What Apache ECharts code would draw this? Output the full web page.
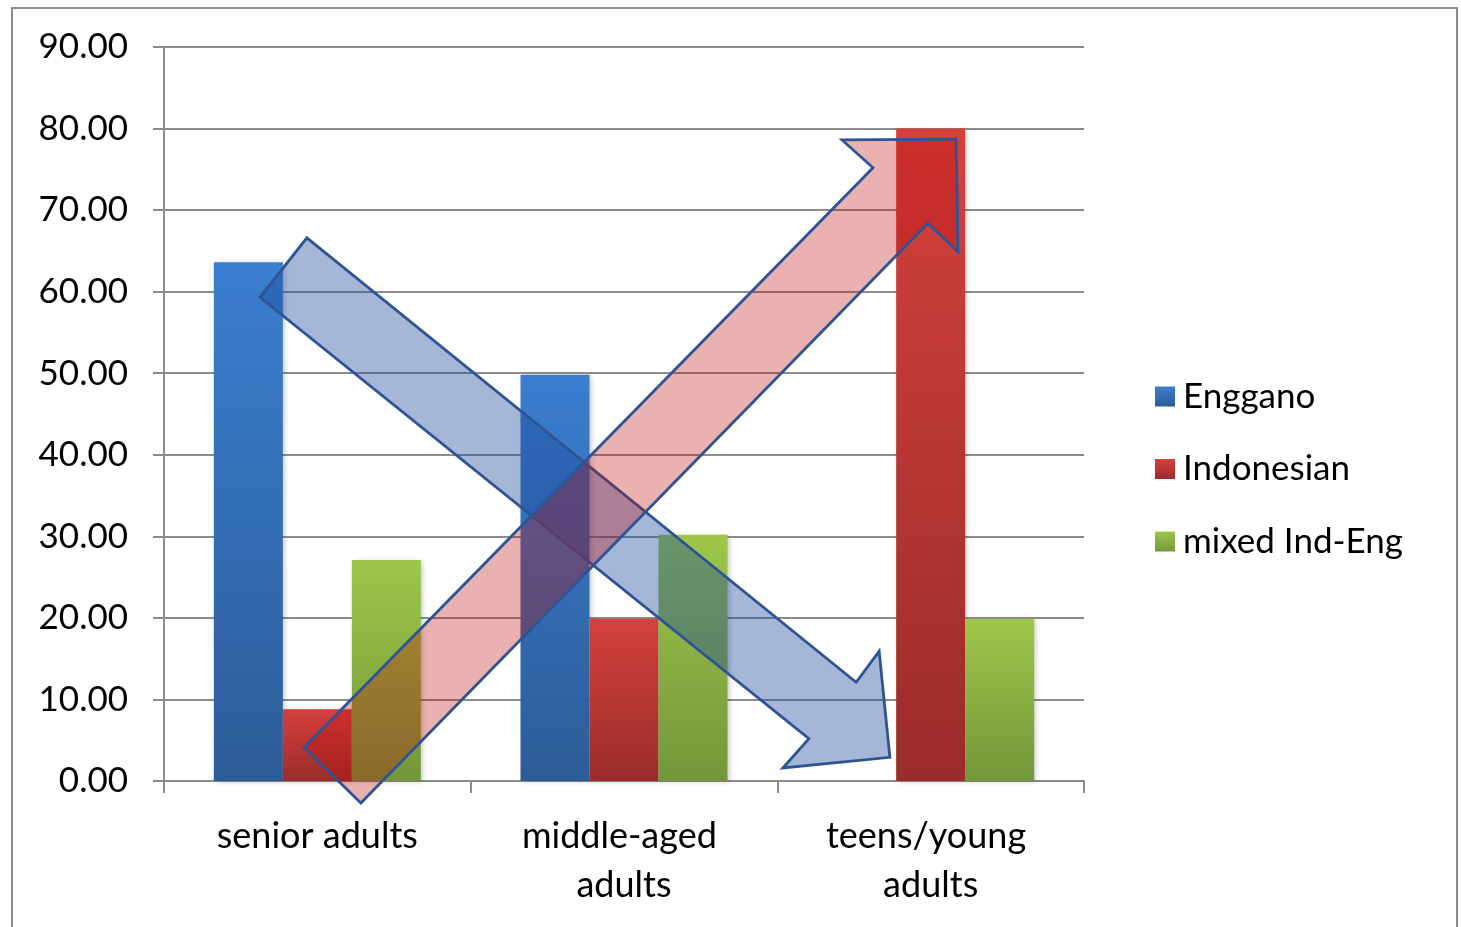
<!DOCTYPE html>
<html>
<head>
<meta charset="utf-8">
<script src="https://cdn.jsdelivr.net/npm/echarts@6/dist/echarts.min.js"></script>
<style>
  html, body { margin: 0; padding: 0; background: #fff; }
  #chart { width: 1461px; height: 927px; }
</style>
</head>
<body>
<div id="chart"></div>
<script>
// Language use by age group (percent of speakers)
const categories = ['senior adults', 'middle-aged adults', 'teens/young adults'];
const enggano = [63.6, 49.8, 0];
const indonesian = [8.8, 19.9, 80.0];
const mixedIndEng = [27.1, 30.2, 19.9];
const seriesNames = ['Enggano', 'Indonesian', 'mixed Ind-Eng'];
const yTicks = { min: 0, max: 90, step: 10 };

// Trend arrows, vertices given in data space: [category position (0..3), value]
const shiftDownArrow = [
  [0.466, 66.6], [2.257, 12.1], [2.332, 15.9], [2.367, 2.9],
  [2.018, 1.6], [2.103, 5.2], [0.313, 59.3]
];
const shiftUpArrow = [
  [0.457, 4.1], [2.312, 75.2], [2.211, 78.6], [2.583, 78.7],
  [2.589, 64.9], [2.491, 68.4], [0.642, -2.7]
];
const arrows = [shiftDownArrow, shiftUpArrow];

const FONT = 'Lato, "Noto Sans", sans-serif';

function grad(top, bottom) {
  return new echarts.graphic.LinearGradient(0, 0, 0, 1, [
    { offset: 0, color: top },
    { offset: 1, color: bottom }
  ]);
}

const barColors = [
  grad('#3B7ECF', '#2C5C98'),
  grad('#D4413D', '#9A2C2A'),
  grad('#9EC74A', '#74963A')
];
const arrowFills = ['rgba(31,73,155,0.40)', 'rgba(190,12,12,0.32)'];

const chart = echarts.init(document.getElementById('chart'), null, { renderer: 'canvas' });

function barSeries(name, data, color) {
  return {
    name: name,
    type: 'bar',
    data: data,
    barGap: '0%',
    barCategoryGap: '32.5%',
    z: 2,
    itemStyle: {
      color: color,
      shadowColor: 'rgba(0,0,0,0.22)',
      shadowBlur: 5,
      shadowOffsetX: 2,
      shadowOffsetY: 1
    }
  };
}

chart.setOption({
  animation: false,
  backgroundColor: '#fff',
  graphic: [{
    type: 'rect',
    shape: { x: 12, y: 8, width: 1445, height: 960 },
    style: { fill: 'none', stroke: '#8c8c8c', lineWidth: 2 },
    z: -1
  }],
  grid: { left: 164, right: 377, top: 47, bottom: 146 },
  legend: {
    data: seriesNames,
    orient: 'vertical',
    left: 1150,
    top: 374,
    icon: 'rect',
    itemWidth: 20,
    itemHeight: 20,
    itemGap: 37.5,
    textStyle: { fontFamily: FONT, fontSize: 35, color: '#000', padding: [0, 0, 0, 3] }
  },
  xAxis: [{
    type: 'category',
    data: categories,
    axisLine: { lineStyle: { color: '#8c8c8c', width: 2 } },
    axisTick: { show: true, length: 12, lineStyle: { color: '#8c8c8c', width: 2 } },
    axisLabel: {
      fontFamily: FONT, fontSize: 36, color: '#000', margin: 31,
      lineHeight: 49, width: 250, overflow: 'break', interval: 0
    }
  }, {
    type: 'value',
    min: 0, max: 3,
    show: false
  }],
  yAxis: {
    type: 'value',
    min: yTicks.min,
    max: yTicks.max,
    interval: yTicks.step,
    axisLine: { show: true, lineStyle: { color: '#8c8c8c', width: 2 } },
    axisTick: { show: true, length: 11, lineStyle: { color: '#8c8c8c', width: 2 } },
    splitLine: { lineStyle: { color: '#8c8c8c', width: 2 } },
    axisLabel: {
      fontFamily: FONT, fontSize: 35, color: '#000', margin: 36,
      formatter: v => v.toFixed(2)
    }
  },
  series: [
    barSeries(seriesNames[0], enggano, barColors[0]),
    barSeries(seriesNames[1], indonesian, barColors[1]),
    barSeries(seriesNames[2], mixedIndEng, barColors[2]),
    {
      type: 'custom',
      xAxisIndex: 1,
      yAxisIndex: 0,
      clip: false,
      silent: true,
      z: 10,
      data: [[0, 0], [1, 0]],
      renderItem: function (params, api) {
        const pts = arrows[params.dataIndex].map(p => api.coord(p));
        return {
          type: 'polygon',
          shape: { points: pts },
          style: {
            fill: arrowFills[params.dataIndex],
            stroke: '#2F5496',
            lineWidth: 2.8,
            lineJoin: 'miter'
          }
        };
      }
    }
  ]
});
</script>
</body>
</html>
